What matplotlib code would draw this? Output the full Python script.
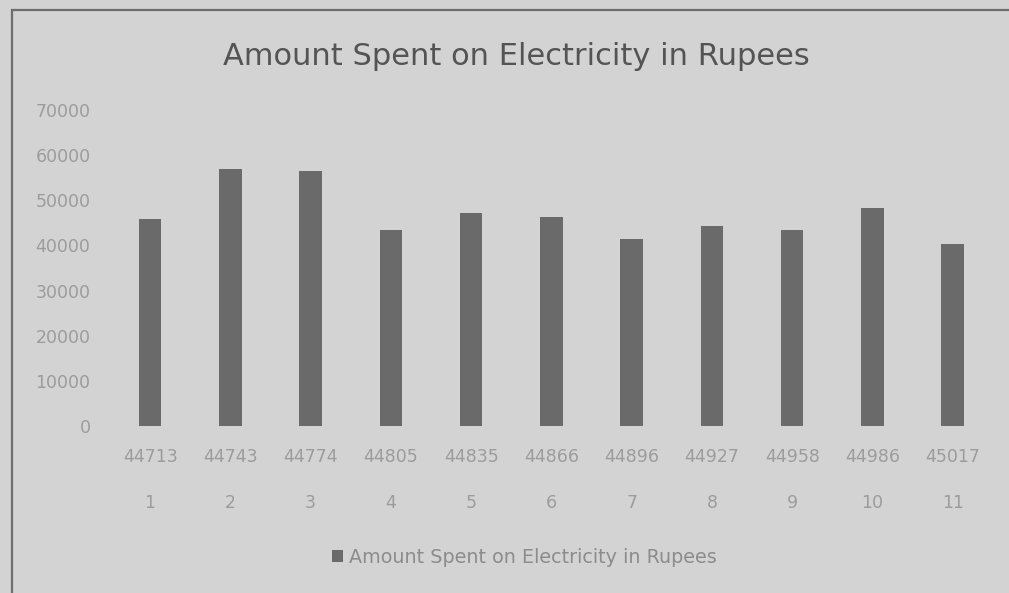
import matplotlib.pyplot as plt
from matplotlib.patches import Rectangle
from matplotlib.transforms import blended_transform_factory

# Monthly electricity spend (Excel date serials as the upper category row)
date_serials = ["44713", "44743", "44774", "44805", "44835", "44866",
                "44896", "44927", "44958", "44986", "45017"]
month_index = ["1", "2", "3", "4", "5", "6", "7", "8", "9", "10", "11"]
amount_spent = [45900, 57000, 56400, 43400, 47200, 46300,
                41400, 44300, 43300, 48300, 40300]
y_ticks = [0, 10000, 20000, 30000, 40000, 50000, 60000, 70000]

title = "Amount Spent on Electricity in Rupees"
series_name = "Amount Spent on Electricity in Rupees"

bg = "#d3d3d3"
bar_color = "#6a6a6a"
tick_color = "#9c9c9c"
plt.rcParams['font.family'] = ["DejaVu Sans"]

fig = plt.figure(figsize=(10.09, 5.93), dpi=100)
fig.patch.set_facecolor(bg)

# chart area border
fig.patches.append(Rectangle((12 / 1009, -0.01), 1.02, 1 - 10 / 593 + 0.01,
                             transform=fig.transFigure, fill=False,
                             edgecolor="#6e6e6e", linewidth=1.6))

ax = fig.add_axes([0.109, 0.2816, 0.875, 0.533])
ax.set_facecolor(bg)

x = list(range(len(amount_spent)))
ax.bar(x, amount_spent, width=0.28, color=bar_color, label=series_name)

ax.set_xlim(-0.5, len(x) - 0.5)
ax.set_ylim(0, 70000)
ax.set_yticks(y_ticks)
ax.set_yticklabels([str(v) for v in y_ticks], color=tick_color, fontsize=12.5)
ax.set_xticks(x)
ax.set_xticklabels(date_serials, color=tick_color, fontsize=12.5)
ax.tick_params(axis="both", length=0)
ax.tick_params(axis="x", pad=16)
ax.tick_params(axis="y", pad=14)
for s in ax.spines.values():
    s.set_visible(False)

# second category row under the date serials
trans = blended_transform_factory(ax.transData, ax.transAxes)
for xi, lab in zip(x, month_index):
    ax.text(xi, -0.245, lab, transform=trans, ha="center", va="center",
            color=tick_color, fontsize=12.5)

fig.text(0.512, 0.905, title, ha="center", va="center",
         fontsize=22, color="#545454")

leg = fig.legend(loc="center", bbox_to_anchor=(0.52, 0.060), frameon=False,
                 fontsize=13.8, handlelength=0.55, handleheight=0.55,
                 handletextpad=0.35)
for t in leg.get_texts():
    t.set_color("#8c8c8c")

fig.savefig("out.png", dpi=100, facecolor=bg)
